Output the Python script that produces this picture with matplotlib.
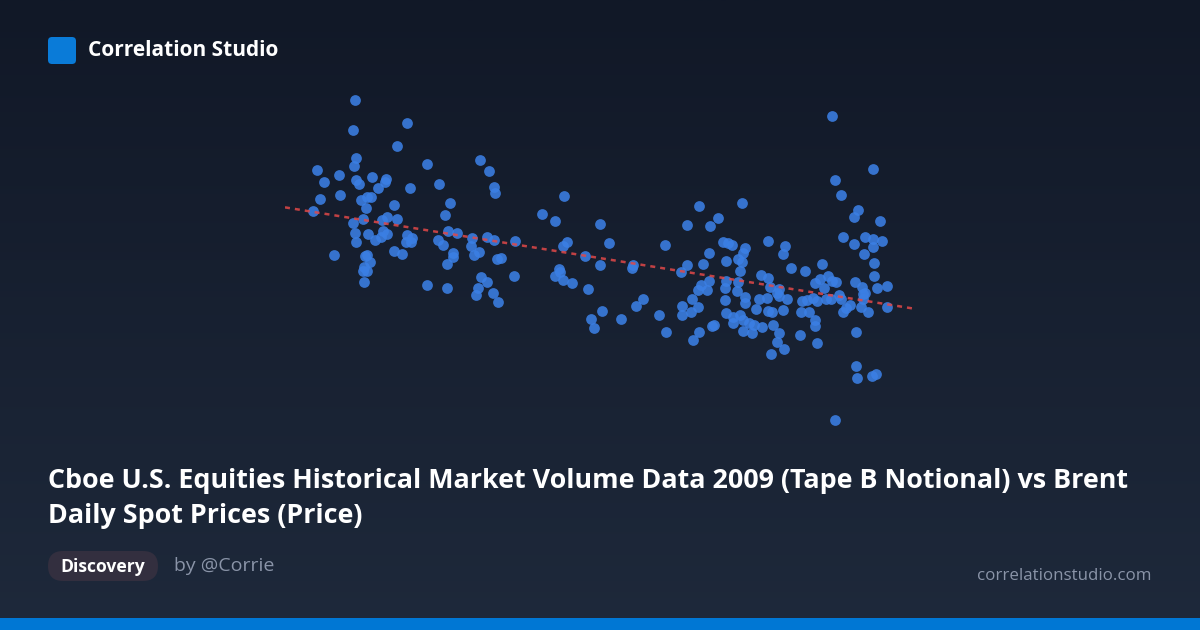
import matplotlib.pyplot as plt
import numpy as np
from matplotlib.patches import FancyBboxPatch, Rectangle

# Tape B notional (bn USD) and Brent price (USD/bbl)
notional = [
    10.5, 15.7, 10.3, 14.7, 10.6, 10.4, 6.7, 8.9, 17.7, 10.6, 10.9, 12.2, 13.6, 13.5, 7.4,
    12.8, 16.0, 18.9, 7.0, 9.0, 11.1, 11.7, 12.1, 14.4, 11.6, 6.3, 20.0, 19.5, 10.3, 11.3,
    13.2, 13.7, 14.7, 19.8, 10.5, 11.8, 13.3, 13.7, 12.5, 13.1, 15.7, 16.2, 15.6, 16.1, 10.6,
    18.8, 19.3, 8.4, 11.5, 11.7, 12.0, 11.4, 11.3, 11.7, 11.4, 14.4, 15.2, 19.7, 17.7, 19.7,
    23.0, 23.9, 24.4, 24.5, 31.4, 29.2, 30.5, 35.0, 35.9, 20.7, 22.2, 23.7, 24.4, 26.5, 22.1,
    22.9, 22.4, 20.3, 20.3, 24.7, 25.1, 31.3, 31.7, 33.5, 35.0, 38.3, 38.2, 23.1, 23.7, 26.4,
    30.9, 31.0, 30.5, 31.3, 32.2, 22.8, 22.6, 24.3, 24.8, 33.8, 35.2, 34.1, 34.4, 37.1, 38.6,
    44.9, 49.2, 46.8, 43.7, 46.0, 41.5, 47.3, 47.8, 48.2, 49.5, 49.3, 51.8, 45.9, 43.7, 45.3,
    47.6, 48.8, 49.2, 49.0, 43.1, 45.9, 45.1, 44.8, 45.7, 47.6, 47.5, 48.8, 48.7, 51.1, 51.8,
    52.0, 52.7, 49.5, 50.9, 51.7, 44.2, 47.5, 49.5, 39.3, 43.2, 43.2, 44.1, 44.8, 40.9, 47.6,
    48.3, 49.0, 49.3, 50.6, 51.8, 52.2, 52.3, 48.3, 49.9, 50.4, 51.2, 49.3, 50.2, 46.4, 46.2,
    41.6, 44.9, 44.3, 52.1, 52.7,
    58.2, 62.3, 58.5, 59.1, 60.8, 60.4, 63.0, 59.3, 60.4, 61.5, 62.3, 63.2, 62.3, 61.4, 53.5,
    53.3, 62.4, 54.1, 55.5, 57.2, 62.4, 56.5, 57.0, 57.8, 58.2, 58.6, 57.4, 60.5, 61.2, 62.7,
    63.7, 52.9, 52.9, 53.7, 55.2, 55.7, 56.3, 56.7, 57.6, 58.1, 58.9, 59.1, 61.3, 61.5, 61.3,
    60.0, 59.6, 59.3, 61.1, 61.8, 63.7, 53.3, 55.1, 55.9, 56.5, 56.5, 52.9, 55.0, 56.7, 53.4,
    60.6, 60.6, 60.7, 62.2, 62.6, 58.5,
]
brent = [
    80.0, 77.7, 77.0, 75.4, 74.2, 73.4, 73.0, 72.5, 73.6, 72.0, 71.6, 72.3, 72.1, 71.8, 71.8,
    71.2, 71.2, 71.6, 70.1, 70.5, 70.0, 70.3, 70.3, 69.5, 69.2, 68.9, 69.7, 68.5, 67.7, 68.1,
    68.0, 68.3, 68.1, 66.9, 66.7, 66.6, 66.9, 66.6, 66.0, 66.3, 66.5, 66.2, 65.8, 65.8, 65.8,
    66.0, 65.5, 64.5, 64.4, 64.5, 63.8, 63.3, 62.9, 62.9, 61.8, 64.9, 64.6, 63.6, 61.5, 61.2,
    74.0, 72.9, 71.3, 70.7, 70.4, 68.6, 67.9, 67.6, 65.7, 66.7, 66.2, 66.3, 66.0, 65.9, 65.4,
    64.8, 64.5, 64.7, 64.3, 64.1, 64.2, 65.4, 65.8, 64.4, 63.5, 63.5, 63.2, 62.3, 61.8, 62.4,
    63.1, 62.8, 62.4, 62.0, 61.7, 61.2, 60.5, 60.7, 59.8, 61.1, 58.9, 58.1, 57.2, 58.1, 59.4,
    69.4, 69.7, 68.2, 67.5, 67.4, 65.5, 65.8, 65.7, 65.5, 65.2, 64.7, 65.9, 64.7, 63.5, 63.6,
    63.9, 64.1, 63.8, 62.9, 62.8, 61.9, 61.5, 61.0, 61.0, 61.9, 61.2, 61.8, 60.9, 62.5, 62.2,
    61.3, 60.7, 60.3, 60.1, 60.2, 60.1, 60.0, 59.7, 60.1, 59.4, 58.5, 58.8, 59.3, 58.5, 58.7,
    58.3, 58.5, 58.0, 59.1, 58.9, 58.8, 57.5, 57.7, 57.7, 57.5, 57.3, 56.9, 56.7, 57.5, 57.4,
    56.8, 56.8, 56.0, 54.6, 55.8,
    78.4, 73.1, 72.0, 70.5, 69.0, 68.3, 67.9, 66.3, 65.6, 66.3, 66.1, 65.9, 65.3, 64.6, 65.4,
    64.6, 63.7, 63.2, 62.9, 63.6, 62.4, 61.7, 62.1, 62.4, 61.9, 61.8, 61.2, 61.8, 61.3, 61.2,
    61.4, 61.1, 60.4, 60.1, 59.9, 60.0, 60.2, 59.9, 60.1, 60.1, 60.5, 60.1, 60.6, 60.7, 60.1,
    59.5, 59.2, 58.8, 59.3, 58.8, 59.3, 59.0, 58.8, 58.8, 58.0, 57.4, 56.7, 56.5, 55.7, 55.1,
    56.8, 53.4, 52.2, 52.4, 52.6, 48.0,
]

title_lines = ["Cboe U.S. Equities Historical Market Volume Data 2009 (Tape B Notional) vs Brent",
               "Daily Spot Prices (Price)"]
brand = "Correlation Studio"
tag = "Discovery"
author = "by @Corrie"
site = "correlationstudio.com"

W, H = 1200, 630
fig = plt.figure(figsize=(W / 100, H / 100), dpi=100)

# background gradient
bg = fig.add_axes([0, 0, 1, 1])
grad = np.linspace(0, 1, 256).reshape(-1, 1)
top = np.array([17, 24, 39]) / 255
bot = np.array([30, 41, 59]) / 255
img = top + grad[..., None] * (bot - top)
bg.imshow(img, aspect="auto", extent=[0, W, H, 0])
bg.set_xlim(0, W)
bg.set_ylim(H, 0)
bg.axis("off")

# bottom accent bar
bg.add_patch(Rectangle((0, 618), W, 12, color="#0077d4", lw=0))

# logo + brand
bg.add_patch(FancyBboxPatch((50, 39), 24, 23, boxstyle="round,pad=2,rounding_size=4",
                            color="#0a7bd8", lw=0))
bg.text(88, 50.5, brand, color="white", fontsize=15, fontweight="bold",
        family="Open Sans", va="center", ha="left")

# title, one text per line so the baselines sit where they do in the card
for line, base in zip(title_lines, [488, 523]):
    bg.text(48, base, line, color="white", fontsize=19.4, fontweight="bold",
            family="Open Sans", va="baseline", ha="left")

# tag pill + author
bg.add_patch(FancyBboxPatch((48, 551), 110, 30, boxstyle="round,pad=0,rounding_size=15",
                            color="#332f3f", lw=0))
bg.text(103, 567, tag, color="white", fontsize=12.6, fontweight="bold",
        family="Open Sans", va="center", ha="center")
bg.text(174, 566, author, color="#8a94a8", fontsize=14, family="Open Sans",
        va="center", ha="left")
bg.text(1151, 576, site, color="#8a94a8", fontsize=12.2, family="Open Sans",
        va="center", ha="right")

# scatter
ax = fig.add_axes([285 / W, (H - 440) / H, 630 / W, 360 / H])
ax.set_xlim(3.5, 66.5)
ax.set_ylim(46, 82)
ax.axis("off")

x = np.array(notional)
y = np.array(brent)
ax.scatter(x, y, s=60, color="#3b7fe4", alpha=0.88, lw=0, zorder=2)

k, b = np.polyfit(x, y, 1)
xs = np.array(ax.get_xlim())
ax.plot(xs, k * xs + b, color="#e04848", lw=1.8, ls=(0, (2, 2)), alpha=0.85, zorder=3)

fig.savefig("out.png", dpi=100)
